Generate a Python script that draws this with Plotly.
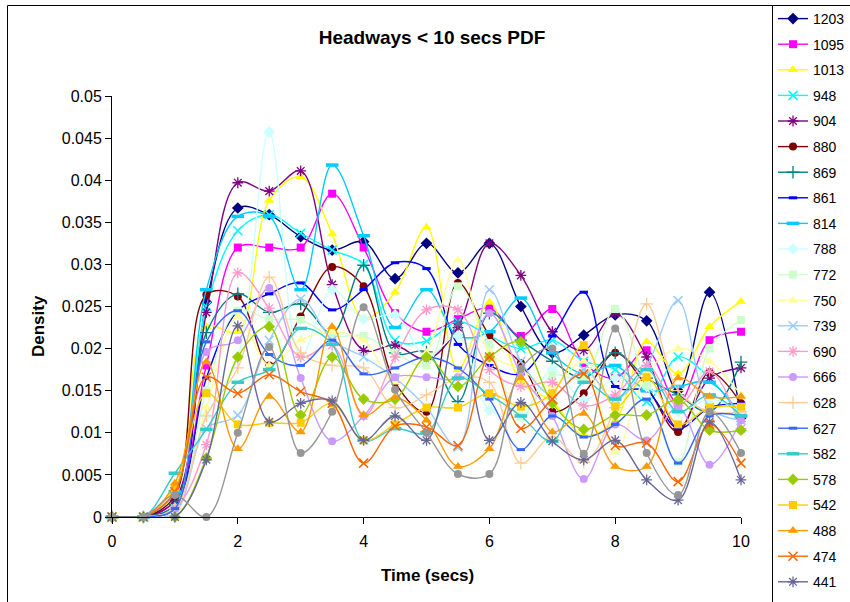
import plotly.graph_objects as go

time_secs = [0, 0.5, 1, 1.5, 2, 2.5, 3, 3.5, 4, 4.5, 5, 5.5, 6, 6.5, 7, 7.5, 8, 8.5, 9, 9.5, 10]

s1203 = [0, 0, 0.001, 0.0255, 0.0367, 0.0359, 0.0333, 0.0317, 0.0327, 0.0283, 0.0325, 0.029, 0.0325, 0.025, 0.0195, 0.0216, 0.024, 0.0233, 0.015, 0.0267, 0.0118]
s1095 = [0, 0, 0.002, 0.018, 0.032, 0.032, 0.032, 0.0384, 0.032, 0.0242, 0.022, 0.0235, 0.0248, 0.0215, 0.0247, 0.0183, 0.0165, 0.0198, 0.0135, 0.021, 0.022]
s1013 = [0, 0, 0.003, 0.0226, 0.022, 0.0376, 0.0404, 0.0336, 0.0236, 0.0267, 0.0344, 0.0175, 0.0255, 0.016, 0.0137, 0.0097, 0.0115, 0.0208, 0.017, 0.0226, 0.0256]
s948 = [0, 0, 0.003, 0.025, 0.034, 0.0359, 0.0337, 0.0317, 0.03, 0.021, 0.0209, 0.0232, 0.0215, 0.02, 0.021, 0.0185, 0.0175, 0.0137, 0.019, 0.0165, 0.0118]
s904 = [0, 0, 0.002, 0.0243, 0.0397, 0.0387, 0.0411, 0.0276, 0.0198, 0.0204, 0.0187, 0.0225, 0.0325, 0.0287, 0.022, 0.0198, 0.0242, 0.019, 0.0105, 0.0165, 0.0177]
s880 = [0, 0, 0.0025, 0.0264, 0.0262, 0.018, 0.0238, 0.0297, 0.0274, 0.016, 0.0125, 0.0278, 0.0216, 0.0183, 0.0125, 0.0147, 0.0195, 0.0155, 0.0101, 0.0172, 0.0135]
s869 = [0, 0, 0.0015, 0.0219, 0.0265, 0.0243, 0.0253, 0.0218, 0.0299, 0.0195, 0.0196, 0.0137, 0.0242, 0.021, 0.0185, 0.0165, 0.0195, 0.0165, 0.0145, 0.0125, 0.0184]
s861 = [0, 0, 0.001, 0.0165, 0.0245, 0.0265, 0.0278, 0.0246, 0.027, 0.0302, 0.0295, 0.0205, 0.018, 0.017, 0.0215, 0.0267, 0.0155, 0.015, 0.0105, 0.013, 0.0135]
s814 = [0, 0, 0.003, 0.027, 0.0357, 0.0357, 0.027, 0.0418, 0.0334, 0.0225, 0.027, 0.0215, 0.022, 0.026, 0.0195, 0.017, 0.018, 0.015, 0.0155, 0.016, 0.012]
s788 = [0, 0, 0.001, 0.012, 0.019, 0.0457, 0.019, 0.027, 0.0235, 0.024, 0.019, 0.0215, 0.0127, 0.012, 0.0175, 0.0139, 0.0165, 0.0155, 0.0125, 0.014, 0.0125]
s772 = [0, 0, 0.001, 0.015, 0.0245, 0.0235, 0.0234, 0.0215, 0.0215, 0.0195, 0.018, 0.0274, 0.0205, 0.0119, 0.0168, 0.0165, 0.0247, 0.0156, 0.0065, 0.02, 0.0234]
s750 = [0, 0, 0.001, 0.013, 0.0238, 0.018, 0.021, 0.022, 0.021, 0.016, 0.0195, 0.0305, 0.0195, 0.0175, 0.0155, 0.0185, 0.0077, 0.017, 0.02, 0.0185, 0.0145]
s739 = [0, 0, 0.0005, 0.0105, 0.0121, 0.021, 0.0259, 0.021, 0.019, 0.0165, 0.013, 0.0083, 0.027, 0.0185, 0.0145, 0.0175, 0.014, 0.018, 0.0257, 0.013, 0.0115]
s690 = [0, 0, 0.001, 0.0086, 0.029, 0.0248, 0.019, 0.0204, 0.012, 0.019, 0.0246, 0.0246, 0.0175, 0.0155, 0.016, 0.0132, 0.0145, 0.018, 0.0132, 0.0173, 0.0105]
s666 = [0, 0, 0.001, 0.0196, 0.021, 0.0272, 0.0165, 0.009, 0.012, 0.0166, 0.0166, 0.0166, 0.0242, 0.017, 0.012, 0.0045, 0.011, 0.0091, 0.013, 0.0062, 0.0115]
s628 = [0, 0, 0.001, 0.012, 0.0177, 0.0285, 0.0195, 0.018, 0.0177, 0.013, 0.0145, 0.0165, 0.016, 0.0064, 0.0095, 0.0065, 0.013, 0.0253, 0.015, 0.0125, 0.0125]
s627 = [0, 0, 0.001, 0.0208, 0.0245, 0.0193, 0.018, 0.021, 0.017, 0.0177, 0.019, 0.0177, 0.014, 0.008, 0.012, 0.0095, 0.011, 0.014, 0.0064, 0.012, 0.012]
s582 = [0, 0, 0.0052, 0.0104, 0.016, 0.0175, 0.0224, 0.0205, 0.0091, 0.0105, 0.01, 0.0165, 0.0145, 0.012, 0.009, 0.016, 0.014, 0.0175, 0.0125, 0.0145, 0.012]
s578 = [0, 0, 0, 0.007, 0.019, 0.0226, 0.0121, 0.019, 0.014, 0.014, 0.019, 0.0155, 0.019, 0.0208, 0.0135, 0.0104, 0.0121, 0.0121, 0.0139, 0.0103, 0.0103]
s542 = [0, 0, 0.0035, 0.0147, 0.011, 0.0112, 0.0112, 0.0135, 0.0091, 0.011, 0.013, 0.013, 0.0147, 0.0131, 0.0147, 0.0204, 0.0131, 0.0166, 0.011, 0.013, 0.0131]
s488 = [0, 0, 0.004, 0.0184, 0.0081, 0.0143, 0.0101, 0.0226, 0.0121, 0.0142, 0.0115, 0.006, 0.0081, 0.0165, 0.0101, 0.0123, 0.006, 0.006, 0.0165, 0.0143, 0.0143]
s474 = [0, 0, 0.003, 0.0166, 0.0147, 0.0169, 0.0149, 0.0135, 0.0064, 0.0108, 0.0107, 0.0085, 0.019, 0.0105, 0.014, 0.017, 0.0085, 0.0088, 0.0042, 0.011, 0.0064]
s441 = [0, 0, 0, 0.0068, 0.0227, 0.0113, 0.0135, 0.0138, 0.0091, 0.012, 0.0091, 0.023, 0.0091, 0.0136, 0.009, 0.0068, 0.0091, 0.0044, 0.002, 0.0113, 0.0044]
s424 = [0, 0, 0.0026, 0, 0.01, 0.0202, 0.0076, 0.0125, 0.0249, 0.0151, 0.01, 0.0051, 0.0051, 0.0176, 0.02, 0.0075, 0.0224, 0.0076, 0.0026, 0.0125, 0.0076]

series_names = ["1203", "1095", "1013", "948", "904", "880", "869", "861", "814", "788", "772", "750",
                "739", "690", "666", "628", "627", "582", "578", "542", "488", "474", "441", "424"]
series_values = [s1203, s1095, s1013, s948, s904, s880, s869, s861, s814, s788, s772, s750,
                 s739, s690, s666, s628, s627, s582, s578, s542, s488, s474, s441, s424]

x_tick_vals = [0, 2, 4, 6, 8, 10]
x_tick_labels = ["0", "2", "4", "6", "8", "10"]
y_tick_vals = [0, 0.005, 0.01, 0.015, 0.02, 0.025, 0.03, 0.035, 0.04, 0.045, 0.05]
y_tick_labels = ["0", "0.005", "0.01", "0.015", "0.02", "0.025", "0.03", "0.035", "0.04", "0.045", "0.05"]

# styles (Excel default palette & 9-step marker cycle)
colors = ["#000080", "#FF00FF", "#FFFF00", "#00FFFF", "#800080", "#800000", "#008080", "#0000FF",
          "#00CCFF", "#CCFFFF", "#CCFFCC", "#FFFF99", "#99CCFF", "#FF99CC", "#CC99FF", "#FFCC99",
          "#3366FF", "#33CCCC", "#99CC00", "#FFCC00", "#FF9900", "#FF6600", "#666699", "#969696"]
marker_cycle = [
    ("diamond", 9, 0), ("square", 8, 0), ("triangle-up", 9, 0), ("x-thin-open", 9, 1.5),
    ("asterisk-open", 9, 1.3), ("circle", 8, 0), ("cross-thin-open", 9, 1.3),
    ("line-ew-open", 6, 3), ("line-ew-open", 9, 3.5),
]

FONT = "Liberation Sans, Arial, sans-serif"

fig = go.Figure()
for i, (name, vals) in enumerate(zip(series_names, series_values)):
    sym, size, lw = marker_cycle[i % len(marker_cycle)]
    fig.add_trace(go.Scatter(
        x=time_secs, y=vals, name=name, mode="lines+markers",
        legendgroup=name,
        line=dict(color=colors[i], width=1.4, shape="spline", smoothing=1.0),
        marker=dict(symbol=sym, size=size, color=colors[i],
                    line=dict(color=colors[i], width=lw)),
        cliponaxis=False,
    ))

L, R, T, B = 112, 741, 96, 517
W, H = 850, 602

def px_x(px):
    return (px - L) / (R - L)

def px_y(py):
    return (B - py) / (B - T)

legend_cfg = dict(x=px_x(773), y=px_y(3), xanchor="left", yanchor="top",
                  bgcolor="rgba(0,0,0,0)", borderwidth=0,
                  font=dict(size=14, family=FONT, color="black"),
                  traceorder="grouped", tracegroupgap=4.4)
try:
    go.layout.Legend(maxheight=2000)
    legend_cfg["maxheight"] = 2000
except Exception:
    pass

fig.update_layout(
    width=W, height=H,
    margin=dict(l=L, r=W - R, t=T, b=H - B, pad=0, autoexpand=False),
    paper_bgcolor="white", plot_bgcolor="white",
    font=dict(family=FONT, color="black"),
    title=dict(text="<b>Headways < 10 secs PDF</b>", font=dict(size=19, family=FONT, color="black"),
               x=432 / W, xanchor="center", xref="container",
               y=1 - 37 / H, yanchor="middle", yref="container"),
    xaxis=dict(range=[0, 10], tickvals=x_tick_vals, ticktext=x_tick_labels,
               showgrid=False, zeroline=False, showline=True, linecolor="black", linewidth=1,
               ticks="outside", ticklen=6, tickcolor="black", tickfont=dict(size=16, family=FONT),
               ticklabelstandoff=4, automargin=False),
    yaxis=dict(range=[0, 0.05], tickvals=y_tick_vals, ticktext=y_tick_labels,
               showgrid=False, zeroline=False, showline=True, linecolor="black", linewidth=1,
               ticks="outside", ticklen=6, tickcolor="black", tickfont=dict(size=16, family=FONT),
               automargin=False),
    legend=legend_cfg,
    showlegend=True,
    shapes=[
        dict(type="rect", xref="paper", yref="paper",
             x0=px_x(7.5), x1=px_x(900), y0=px_y(640), y1=px_y(5.5),
             line=dict(color="black", width=1), fillcolor="rgba(0,0,0,0)", layer="below"),
        dict(type="rect", xref="paper", yref="paper",
             x0=px_x(772.5), x1=px_x(900), y0=px_y(640), y1=px_y(5.5),
             line=dict(color="black", width=1), fillcolor="white", layer="above"),
    ],
    annotations=[
        dict(text="<b>Density</b>", xref="paper", yref="paper", x=px_x(38), y=px_y(326),
             textangle=-90, showarrow=False, font=dict(size=17, family=FONT, color="black"),
             xanchor="center", yanchor="middle"),
        dict(text="<b>Time (secs)</b>", xref="paper", yref="paper", x=px_x(428), y=px_y(575),
             showarrow=False, font=dict(size=17, family=FONT, color="black"),
             xanchor="center", yanchor="middle"),
    ],
)

fig.write_html("out.html")
